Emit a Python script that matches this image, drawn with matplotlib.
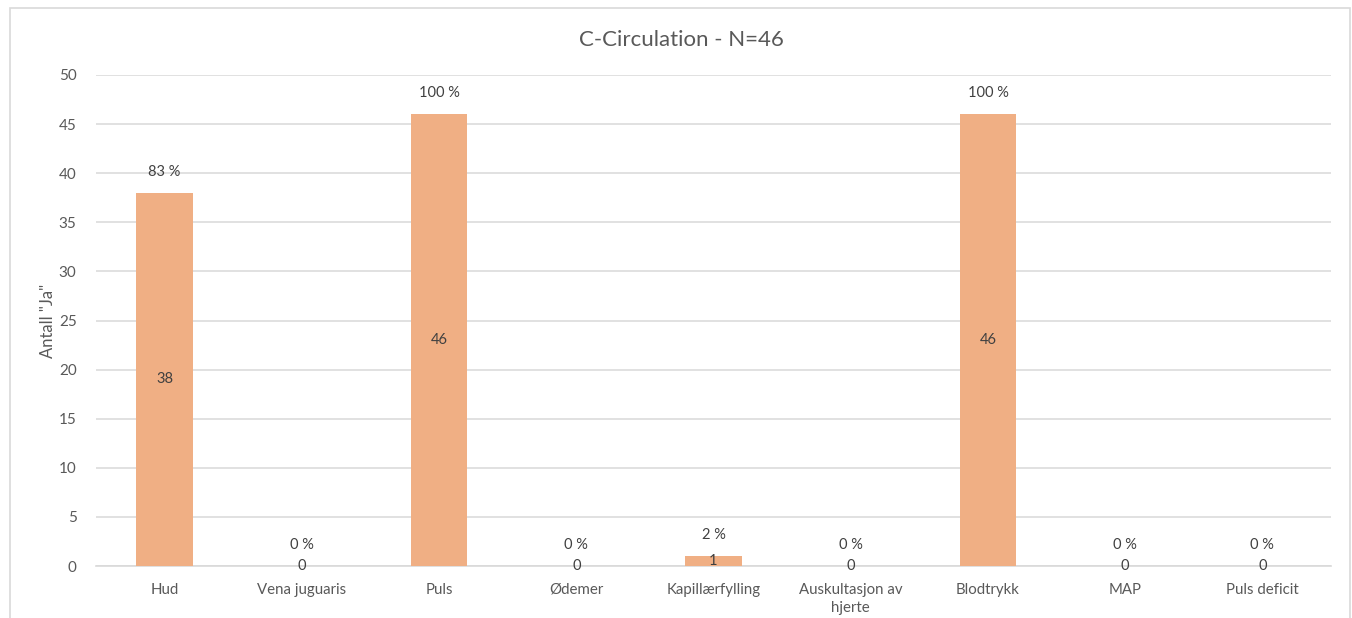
import matplotlib.pyplot as plt
from matplotlib.patches import Rectangle

# C-Circulation, antall "Ja" per vurdering
kategorier = ['Hud', 'Vena juguaris', 'Puls', 'Ødemer', 'Kapillærfylling',
              'Auskultasjon av\nhjerte', 'Blodtrykk', 'MAP', 'Puls deficit']
antall_ja = [38, 0, 46, 0, 1, 0, 46, 0, 0]
n_total = 46

plt.rcParams['font.family'] = ['Lato', 'DejaVu Sans']

W, H = 1352, 618
fig = plt.figure(figsize=(W / 100, H / 100), dpi=100)

# chart frame like the spreadsheet object
fig.patches.append(Rectangle((10 / W, -0.01), (W - 12) / W, 1 - 8 / H + 0.01,
                             transform=fig.transFigure, fill=False,
                             edgecolor='#D9D9D9', linewidth=1.2))

ax = fig.add_axes([96 / W, 52 / H, 1235 / W, 491 / H])
x = range(len(kategorier))
bars = ax.bar(x, antall_ja, width=0.41, color='#F0AF84', zorder=3)

ax.set_xlim(-0.5, len(kategorier) - 0.5)
ax.set_ylim(0, 50)
ax.set_yticks(range(0, 51, 5))
ax.set_xticks(list(x))
ax.set_xticklabels(kategorier, fontsize=10.8, color='#595959', linespacing=1.4)
ax.tick_params(axis='x', length=0, pad=12)
ax.tick_params(axis='y', length=0, pad=14, labelsize=11, labelcolor='#595959')
ax.grid(axis='y', color='#D9D9D9', linewidth=1.1, zorder=0)
for s in ['top', 'right', 'left']:
    ax.spines[s].set_visible(False)
ax.spines['bottom'].set_color('#D9D9D9')
ax.spines['bottom'].set_linewidth(1.2)

ax.set_ylabel('Antall "Ja"', fontsize=12, color='#595959', labelpad=2)

for i, v in enumerate(antall_ja):
    pct = round(v / n_total * 100)
    ax.text(i, v / 2, str(v), ha='center', va='center', fontsize=10.5, color='#404040', zorder=4)
    ax.annotate('%d %%' % pct, (i, v), xytext=(0, 15), textcoords='offset points',
                ha='center', va='center', fontsize=10.5, color='#404040')

fig.text(681 / W, 1 - 40 / H, 'C-Circulation - N=%d' % n_total, ha='center', va='center',
         fontsize=16, color='#595959')

plt.savefig('out.png', dpi=100)
